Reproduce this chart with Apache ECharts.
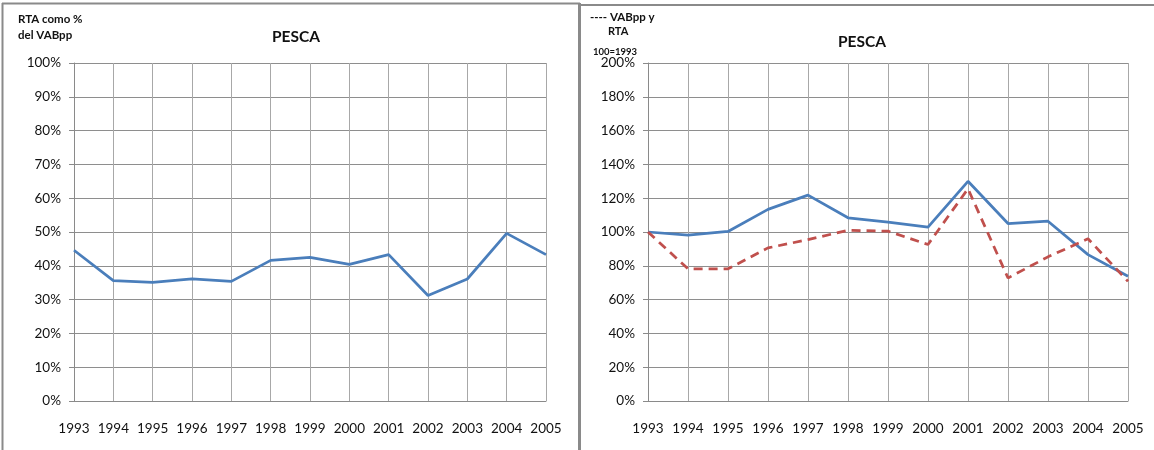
<!DOCTYPE html>
<html><head><meta charset="utf-8">
<script src="https://cdn.jsdelivr.net/npm/echarts@6/dist/echarts.min.js"></script>
<style>html,body{margin:0;padding:0;background:#fff}#c{width:1154px;height:450px}</style>
</head><body><div id="c"></div>
<script>
const years = ['1993','1994','1995','1996','1997','1998','1999','2000','2001','2002','2003','2004','2005'];
// Left panel: RTA como % del VABpp
const rtaPct = [44.6,35.6,35.1,36.1,35.4,41.6,42.5,40.4,43.3,31.2,36.1,49.6,43.3];
// Right panel: index 100=1993
const rtaIdx = [100,98.1,100.3,113.4,121.8,108.4,105.8,102.9,130.0,105.0,106.4,86.6,73.8];
const vabIdx = [100,78.2,78.2,90.6,95.5,101.0,100.5,92.6,125.6,72.8,85.3,96.0,70.8];
const leftTicks = {min:0, max:100, interval:10};
const rightTicks = {min:0, max:200, interval:20};

const FONT = 'Lato, "Open Sans", sans-serif';
const chart = echarts.init(document.getElementById('c'), null, {renderer:'canvas'});

function xAx(gi){
  return {type:'category', gridIndex:gi, data:years, boundaryGap:false,
    axisLine:{show:true, lineStyle:{color:'#8a8a8a', width:1}},
    axisTick:{show:false},
    axisLabel:{interval:0, margin:21, color:'#111', fontFamily:FONT, fontSize:13.5},
    splitLine:{show:true, interval:0, lineStyle:{color:'#a8a8a8', width:1}}};
}
function yAx(gi, t){
  return {type:'value', gridIndex:gi, min:t.min, max:t.max, interval:t.interval,
    axisLine:{show:true, lineStyle:{color:'#8a8a8a', width:1}},
    axisTick:{show:true, inside:false, length:5, lineStyle:{color:'#8a8a8a'}},
    axisLabel:{formatter:'{value}%', margin:13, color:'#111', fontFamily:FONT, fontSize:13.5},
    splitLine:{show:true, lineStyle:{color:'#8e8e8e', width:1}}};
}

chart.setOption({
  animation:false,
  backgroundColor:'#fff',
  title:[
    {text:'PESCA', left:291, top:24, textAlign:'center', textStyle:{fontFamily:FONT, fontSize:15.5, fontWeight:'bold', color:'#111'}},
    {text:'PESCA', left:857, top:29, textAlign:'center', textStyle:{fontFamily:FONT, fontSize:15.5, fontWeight:'bold', color:'#111'}}
  ],
  grid:[
    {left:74, top:63, width:472, height:338},
    {left:648, top:63, width:480, height:338}
  ],
  xAxis:[xAx(0), xAx(1)],
  yAxis:[yAx(0,leftTicks), yAx(1,rightTicks)],
  series:[
    {type:'line', xAxisIndex:0, yAxisIndex:0, data:rtaPct, symbol:'none',
      lineStyle:{color:'#4a7ebb', width:2.75}},
    {type:'line', xAxisIndex:1, yAxisIndex:1, data:rtaIdx, symbol:'none',
      lineStyle:{color:'#4a7ebb', width:2.75}},
    {type:'line', xAxisIndex:1, yAxisIndex:1, data:vabIdx, symbol:'none',
      lineStyle:{color:'#c0504d', width:2.75, type:[9,6]}}
  ],
  graphic:[
    {type:'line', shape:{x1:2.5,y1:3,x2:2.5,y2:450}, style:{stroke:'#8a8a8a', lineWidth:2}},
    {type:'line', shape:{x1:2,y1:3.5,x2:580,y2:3.5}, style:{stroke:'#8a8a8a', lineWidth:2}},
    {type:'line', shape:{x1:579.5,y1:3,x2:579.5,y2:450}, style:{stroke:'#8a8a8a', lineWidth:3}},
    {type:'line', shape:{x1:580,y1:5,x2:1154,y2:5}, style:{stroke:'#8a8a8a', lineWidth:2}},
    {type:'text', left:18, top:13, style:{text:'RTA como %', font:'bold 11.5px '+FONT, fill:'#111'}},
    {type:'text', left:18, top:29, style:{text:'del VABpp', font:'bold 11.5px '+FONT, fill:'#111'}},
    {type:'text', left:590, top:11, style:{text:'---- VABpp y', font:'bold 11.5px '+FONT, fill:'#111'}},
    {type:'text', left:608, top:26, style:{text:'RTA', font:'bold 11px '+FONT, fill:'#111'}},
    {type:'text', left:593, top:47, style:{text:'100=1993', font:'bold 9.5px '+FONT, fill:'#111'}}
  ]
});
</script></body></html>
